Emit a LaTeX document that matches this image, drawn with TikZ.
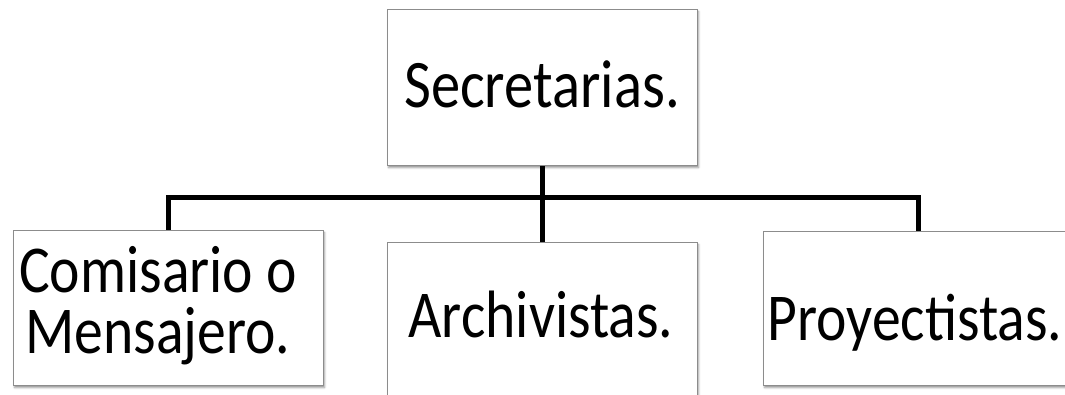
\documentclass[tikz,border=0pt]{standalone}
\usepackage{fontspec}
\setmainfont{Carlito}[FakeStretch=0.86]
\usetikzlibrary{shadows.blur}
\tikzset{
  box/.style={draw=black!45, line width=0.8pt, fill=white, minimum width=310pt,
    inner sep=0pt, blur shadow={shadow xshift=1.5pt, shadow yshift=-2.5pt,
    shadow blur radius=2pt, shadow opacity=45}},
  lbl/.style={anchor=base, inner sep=0pt, align=center, font=\fontsize{67}{61}\selectfont},
  conn/.style={line width=5pt, black},
}
\begin{document}
\begin{tikzpicture}[x=1pt,y=-1pt]
\useasboundingbox (0,0) rectangle (1065,395);
\coordinate (bar) at (542,198);
% connectors
\draw[conn] (542,160) -- (bar);
\draw[conn] (168,235) |- (bar) -| (918,235);
\draw[conn] (bar) -- (542,247);
% boxes
\node[box, minimum height=156pt] (sec) at (542,87) {};
\node[box, minimum height=155pt] (left) at (168,307.5) {};
\node[box, minimum height=155pt] (mid) at (542,319.5) {};
\node[box, minimum height=154pt] (right) at (918,308) {};
% labels
\node[lbl, font=\fontsize{68}{68}\selectfont] (tsec) at (542,108) {Secretarias.};
\node[lbl] (tleft) at (158,353) {Comisario o\\Mensajero.};
\node[lbl] (tmid) at (541,337) {Archivistas.};
\node[lbl] (tright) at (915,340) {Proyectistas.};
\end{tikzpicture}
\end{document}
